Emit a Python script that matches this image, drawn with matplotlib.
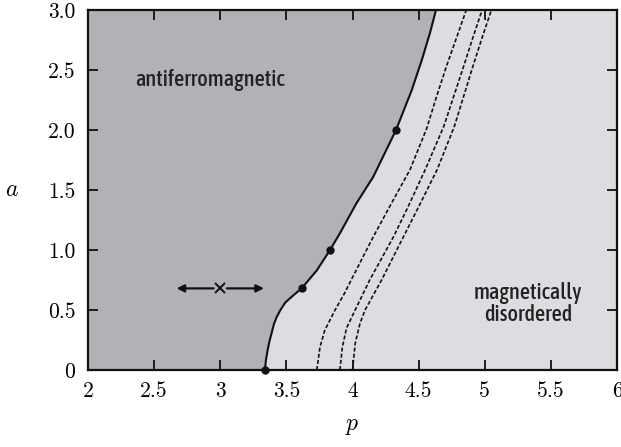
import numpy as np
import matplotlib
matplotlib.use("Agg")
import matplotlib.pyplot as plt
from matplotlib import font_manager

plt.rcParams['mathtext.fontset'] = 'cm'
plt.rcParams['font.family'] = ['cmr10', 'DejaVu Sans']
plt.rcParams['axes.formatter.use_mathtext'] = True

# pick a condensed sans for the region labels, if one is installed
cond = None
best = -1
for f in font_manager.fontManager.ttflist:
    n = f.name + ' ' + f.fname
    if ('Condensed' in n or 'Narrow' in n) and 'Italic' not in n and 'Oblique' not in n:
        score = 0
        if 'Medium' in n:
            score = 3
        elif 'Regular' in n or f.weight in (400, 'normal'):
            score = 2
        elif 'Light' in n or 'Thin' in n:
            score = 0
        else:
            score = 1
        if score > best:
            best = score
            cond = f.fname
label_font = font_manager.FontProperties(fname=cond, size=16) if cond else \
    font_manager.FontProperties(family='DejaVu Sans', size=12)

# phase boundary (solid line)
p_bound = [3.338, 3.345, 3.359, 3.372, 3.389, 3.405, 3.426, 3.455, 3.49, 3.55, 3.615, 3.73, 3.83,
           3.905, 4.03, 4.157, 4.245, 4.329, 4.447, 4.523, 4.586, 4.631]
a_bound = [0.0, 0.08, 0.17, 0.24, 0.31, 0.38, 0.44, 0.50, 0.56, 0.62, 0.68, 0.83, 1.0,
           1.14, 1.39, 1.61, 1.81, 2.0, 2.33, 2.58, 2.81, 3.0]

# dashed lines
p_dash1 = [3.73, 3.754, 3.79, 3.868, 3.94, 3.99, 4.157, 4.28, 4.435, 4.56, 4.636, 4.71, 4.79, 4.86]
a_dash1 = [0.0, 0.19, 0.33, 0.5, 0.64, 0.75, 1.11, 1.36, 1.67, 2.01, 2.28, 2.53, 2.78, 3.0]
p_dash2 = [3.905, 3.923, 3.955, 4.02, 4.095, 4.13, 4.31, 4.42, 4.55, 4.69, 4.765, 4.84, 4.91, 4.98]
a_dash2 = [0.0, 0.19, 0.35, 0.5, 0.67, 0.75, 1.11, 1.36, 1.67, 2.03, 2.28, 2.53, 2.77, 3.0]
p_dash3 = [4.0, 4.02, 4.057, 4.095, 4.22, 4.385, 4.50, 4.64, 4.77, 4.84, 4.91, 4.98, 5.05]
a_dash3 = [0.0, 0.22, 0.39, 0.5, 0.75, 1.11, 1.36, 1.67, 2.03, 2.28, 2.53, 2.77, 3.0]

# marked points on the boundary
p_dots = [3.34, 3.62, 3.83, 4.33]
a_dots = [0.0, 0.68, 1.0, 2.0]

x_ticks = [2, 2.5, 3, 3.5, 4, 4.5, 5, 5.5, 6]
x_labels = ['2', '2.5', '3', '3.5', '4', '4.5', '5', '5.5', '6']
y_ticks = [0, 0.5, 1.0, 1.5, 2.0, 2.5, 3.0]
y_labels = ['0', '0.5', '1.0', '1.5', '2.0', '2.5', '3.0']

fig = plt.figure(figsize=(6.21, 4.47), dpi=100)
ax = fig.add_axes([0.1417, 0.1723, 0.8519, 0.8053])

ax.set_facecolor('#dcdde0')
ax.fill_betweenx(a_bound, 2, p_bound, color='#b1b2b5', lw=0)

ax.plot(p_bound, a_bound, color='#111111', lw=1.5)
for pp, aa in [(p_dash1, a_dash1), (p_dash2, a_dash2), (p_dash3, a_dash3)]:
    ax.plot(pp, aa, color='#111111', lw=1.2, dashes=(2.4, 1.3))
ax.plot(p_dots, a_dots, 'o', color='#111111', ms=5, clip_on=False, zorder=5)

# cross with arrows
ax.plot(3.0, 0.68, marker='x', color='#111111', ms=7, mew=1.4)
ax.annotate('', xy=(2.67, 0.68), xytext=(2.95, 0.68),
            arrowprops=dict(arrowstyle='-|>', color='#111111', lw=1.6, mutation_scale=11,
                            shrinkA=0, shrinkB=0))
ax.annotate('', xy=(3.33, 0.68), xytext=(3.05, 0.68),
            arrowprops=dict(arrowstyle='-|>', color='#111111', lw=1.6, mutation_scale=11,
                            shrinkA=0, shrinkB=0))

ax.text(2.92, 2.42, 'antiferromagnetic', ha='center', va='center',
        fontproperties=label_font, color='#222222')
ax.text(5.33, 0.55, 'magnetically\ndisordered', ha='center', va='center',
        fontproperties=label_font, color='#222222', linespacing=1.05)

ax.set_xlim(2, 6)
ax.set_ylim(0, 3)
ax.set_xticks(x_ticks)
ax.set_xticklabels(x_labels)
ax.set_yticks(y_ticks)
ax.set_yticklabels(y_labels)
ax.tick_params(direction='in', length=7, width=1.3, top=True, right=True,
               labelsize=15.5, color='#111111')
ax.tick_params(axis='x', pad=8)
ax.tick_params(axis='y', pad=9)
for s in ax.spines.values():
    s.set_linewidth(1.6)
    s.set_color('#111111')

ax.set_xlabel('$p$', fontsize=17, labelpad=10)
ax.set_ylabel('$a$', fontsize=17, rotation=0, labelpad=26, va='center')

fig.savefig('out.png', dpi=100)
